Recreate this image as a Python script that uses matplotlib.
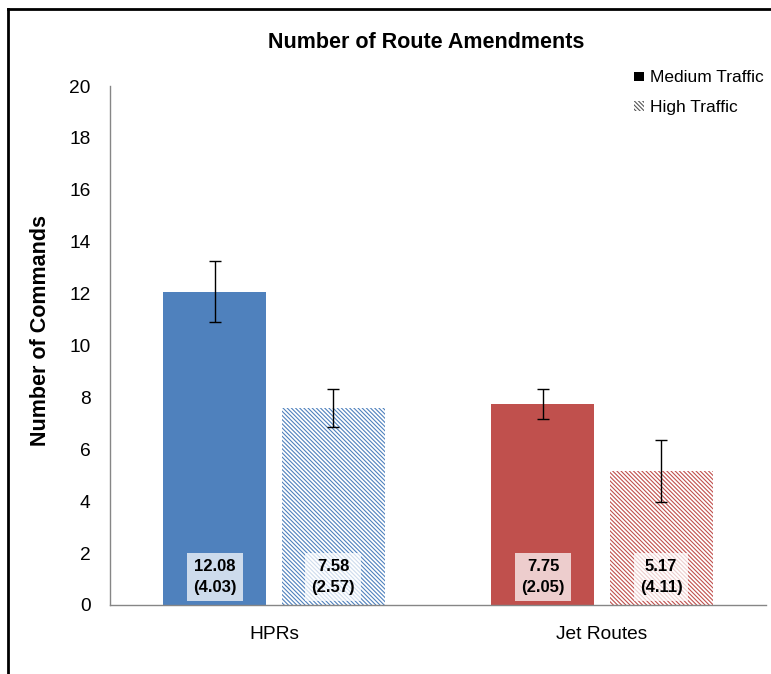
import numpy as np
import matplotlib.pyplot as plt
from matplotlib.patches import Patch
from matplotlib.lines import Line2D

plt.rcParams['font.family'] = ['Liberation Sans', 'DejaVu Sans']
plt.rcParams['hatch.linewidth'] = 0.8

# Route amendment counts: means, SDs (printed in the boxes) and SE for error bars
categories = ['HPRs', 'Jet Routes']
medium_mean = [12.08, 7.75]
medium_sd = [4.03, 2.05]
medium_se = [1.16, 0.59]
high_mean = [7.58, 5.17]
high_sd = [2.57, 4.11]
high_se = [0.74, 1.19]
bar_colors = ['#4F81BD', '#C0504D']

fig = plt.figure(figsize=(7.71, 6.74), dpi=100)
ax = fig.add_axes([0.1427, 0.1024, 0.8508, 0.77])

x = np.arange(len(categories))
offset = 0.18
width = 0.314
dense = '\\' * 8

for i in range(len(categories)):
    ax.bar(x[i] - offset, medium_mean[i], width, color=bar_colors[i],
           linewidth=0, zorder=2)
    ax.bar(x[i] + offset, high_mean[i], width, facecolor='white',
           edgecolor=bar_colors[i], hatch=dense, linewidth=0, zorder=2)

ax.errorbar(x - offset, medium_mean, yerr=medium_se, fmt='none',
            ecolor='black', elinewidth=1, capsize=4.5, capthick=1, zorder=3)
ax.errorbar(x + offset, high_mean, yerr=high_se, fmt='none',
            ecolor='black', elinewidth=1, capsize=4.5, capthick=1, zorder=3)

# mean (SD) label boxes near the base of each bar
box = dict(boxstyle='square,pad=0.35', facecolor='white', edgecolor='none',
           alpha=0.72)
for i in range(len(categories)):
    ax.text(x[i] - offset, 1.08, f'{medium_mean[i]:.2f}\n({medium_sd[i]:.2f})',
            ha='center', va='center', fontsize=12, fontweight='bold',
            linespacing=1.5, bbox=box, zorder=4)
    ax.text(x[i] + offset, 1.08, f'{high_mean[i]:.2f}\n({high_sd[i]:.2f})',
            ha='center', va='center', fontsize=12, fontweight='bold',
            linespacing=1.5, bbox=box, zorder=4)

ax.set_xlim(-0.5, 1.5)
ax.set_ylim(0, 20)
ax.set_yticks(np.arange(0, 21, 2))
ax.set_xticks(x)
ax.set_xticklabels(categories)
ax.tick_params(axis='both', length=0, labelsize=13.8)
ax.tick_params(axis='y', pad=14)
ax.tick_params(axis='x', pad=15)
for side in ['top', 'right']:
    ax.spines[side].set_visible(False)
for side in ['left', 'bottom']:
    ax.spines[side].set_color('#868686')
    ax.spines[side].set_linewidth(1)

ax.set_ylabel('Number of Commands', fontsize=15.5, fontweight='bold')
ax.yaxis.set_label_coords(-0.09, 0.528)
fig.text(0.553, 0.937, 'Number of Route Amendments', ha='center',
         va='center', fontsize=15.5, fontweight='bold')

handles = [
    Patch(facecolor='black', edgecolor='black', linewidth=0),
    Patch(facecolor='white', edgecolor='#555555', hatch=dense, linewidth=0),
]
leg = ax.legend(handles, ['Medium Traffic', 'High Traffic'],
                loc='upper right', bbox_to_anchor=(1.012, 1.05), frameon=False,
                fontsize=12.5, handlelength=0.6, handleheight=0.45,
                handletextpad=0.3, labelspacing=0.85, borderaxespad=0.2)

# outer frame on the left and top edges
fig.add_artist(Line2D([0.011, 0.011], [0.0, 0.987], color='black',
                      linewidth=2, transform=fig.transFigure))
fig.add_artist(Line2D([0.011, 1.0], [0.987, 0.987], color='black',
                      linewidth=2, transform=fig.transFigure))

fig.savefig('out.png', dpi=100)
